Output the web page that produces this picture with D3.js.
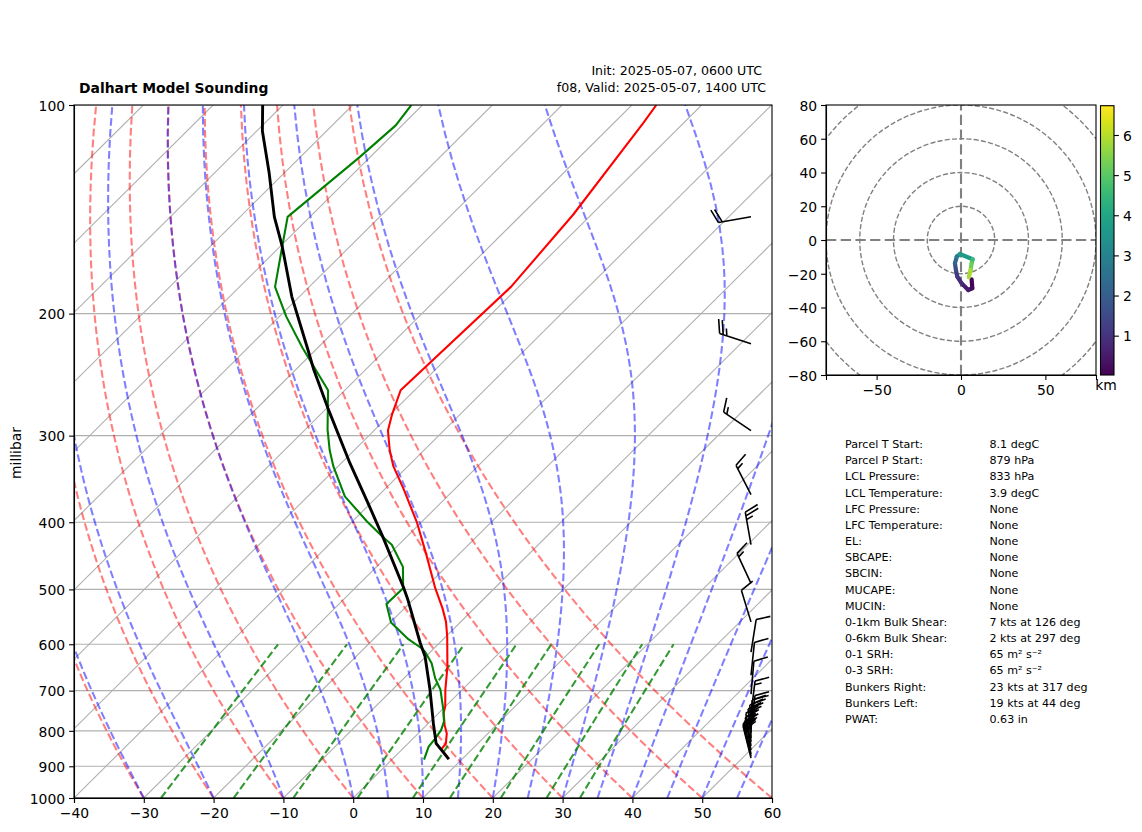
<!DOCTYPE html>
<html>
<head>
<meta charset="utf-8">
<script src="https://cdn.jsdelivr.net/npm/d3@7"></script>
<style>
	body { margin: 0; background: #fff; }
	text { font-family: "DejaVu Sans", sans-serif; fill: #000; }
	.axis text { font-size: 13.9px; }
	.axis path, .axis line { stroke: #000; stroke-width: 1.1px; }
</style>
</head>
<body>
<div id="chart"></div>
<script>
// Temperature trace (red)
const tempP = [879, 850, 834, 807, 785, 754, 738, 698, 647, 585, 557, 533, 498, 444, 401, 359, 332, 315, 295, 280, 258, 183, 144, 106, 100]
const tempC = [8.1, 5.6, 5.4, 4.1, 2.6, 0.7, 0.0, -2.4, -5.4, -9.8, -12.1, -14.5, -18.5, -24.8, -30.5, -37.2, -42.1, -44.9, -48.0, -49.7, -52.0, -51.1, -52.6, -55.8, -56.5]

// Dewpoint trace (green)
const dewP = [880, 843, 823, 798, 776, 746, 698, 672, 639, 615, 608, 590, 558, 525, 498, 464, 431, 420, 399, 367, 332, 315, 294, 258, 224, 202, 183, 160, 145, 119, 107, 100]
const dewC = [4.6, 3.4, 3.2, 2.8, 2.0, 0.2, -3.1, -5.5, -8.2, -10.8, -11.8, -15.0, -19.9, -23.2, -23.1, -26.2, -31.0, -33.4, -37.9, -44.7, -50.7, -53.5, -56.8, -62.4, -72.2, -79.0, -84.9, -89.7, -93.2, -91.5, -90.9, -91.6]

// Parcel profile (black)
const parcelP = [879, 834, 780, 698, 625, 598, 518, 498, 420, 376, 329, 274, 241, 224, 189, 160, 145, 125, 109, 100]
const parcelC = [8.1, 4.0, 0.7, -4.6, -10.1, -12.7, -20.7, -23.0, -33.4, -40.3, -48.7, -59.8, -67.4, -71.5, -81.1, -89.7, -95.1, -102.3, -109.2, -112.9]

// Wind barbs
const barbP = [145, 221, 295, 365, 431, 490, 557, 616, 665, 708, 756, 793, 806, 819, 830, 841, 853, 864, 870, 876]
const barbDir = [260, 288, 304, 333, 350, 335, 343, 9, 6, 5, 7, 7, 2, 358, 355, 351, 350, 348, 346, 346]
const barbKts = [20, 25, 15, 15, 25, 15, 10, 10, 10, 10, 15, 20, 20, 25, 25, 25, 25, 25, 25, 20]

// Hodograph
const hodoU = [6.3, 6.7, 4.3, 0.4, -2.2, -3.0, -3.6, -2.5, -0.6, 6.9, 6.3, 5.7, 4.6]
const hodoV = [-23.3, -28.6, -29.6, -25.7, -21.7, -17.8, -13.8, -9.9, -8.3, -11.4, -13.8, -17.8, -22.0]
const hodoH = [0.02, 0.1, 0.3, 0.7, 1.0, 1.3, 1.8, 2.6, 3.2, 4.2, 5.0, 5.5, 6.2]
const hodoRings = [20, 40, 60, 80, 100]
const hodoXTicks = [-50, 0, 50]
const hodoYTicks = [-80, -60, -40, -20, 0, 20, 40, 60, 80]
const colorTicks = [1, 2, 3, 4, 5, 6]

// Skew-T background
const tempTicks = [-40, -30, -20, -10, 0, 10, 20, 30, 40, 50, 60]
const pressureTicks = [100, 200, 300, 400, 500, 600, 700, 800, 900, 1000]
const isotherms = d3.range(-130, 61, 10)
const dryStarts = [-30, -20, -10, 0, 10, 20, 30, 40, 50, 60]
const moistStarts = [-30, -20, -10, 0, 5, 10, 15, 20, 25, 30, 35, 40, 45, 50, 55, 60]
const mixingRatios = [0.0004, 0.001, 0.002, 0.004, 0.007, 0.01, 0.016, 0.024, 0.032]

// Stats table
const statLabels = ['Parcel T Start:', 'Parcel P Start:', 'LCL Pressure:', 'LCL Temperature:', 'LFC Pressure:', 'LFC Temperature:', 'EL:', 'SBCAPE:', 'SBCIN:', 'MUCAPE:', 'MUCIN:', '0-1km Bulk Shear:', '0-6km Bulk Shear:', '0-1 SRH:', '0-3 SRH:', 'Bunkers Right:', 'Bunkers Left:', 'PWAT:']
const statValues = ['8.1 degC', '879 hPa', '833 hPa', '3.9 degC', 'None', 'None', 'None', 'None', 'None', 'None', 'None', '7 kts at 126 deg', '2 kts at 297 deg', '65 m² s⁻²', '65 m² s⁻²', '23 kts at 317 deg', '19 kts at 44 deg', '0.63 in']

const svg = d3.select('#chart').append('svg')
	.attr('width', 1142)
	.attr('height', 832)

const defs = svg.append('defs')
defs.append('clipPath').attr('id', 'skew-clip')
	.append('rect').attr('x', 74).attr('y', 105).attr('width', 698).attr('height', 693)
defs.append('clipPath').attr('id', 'hodo-clip')
	.append('rect').attr('x', 826).attr('y', 105).attr('width', 270).attr('height', 270)

const x = d3.scaleLinear().domain([-40, 60]).range([74, 772])
const y = d3.scaleLog().domain([1000, 100]).range([798, 105])
const skew = 1.0065

// isotherms lean over by a bit more than the pressure axis height
const skewX = (t, p) => x(t) + skew * (y(1000) - y(p))
const skewLine = d3.line().x(d => skewX(d[0], d[1])).y(d => y(d[1]))

const Rd = 287.05, Cpd = 1005, Lv = 2.50084e6, eps = 0.62198, kappa = 0.2854
const satVap = tK => 6.112 * Math.exp(17.67 * (tK - 273.15) / (tK - 29.65))
const moistRate = (p, tK) => {
	const rs = eps * satVap(tK) / (p - satVap(tK))
	return (Rd * tK + Lv * rs) / (Cpd + Lv * Lv * rs * eps / (Rd * tK * tK)) / p
}
const levels = d3.range(1000, 99, -10)

const dryCurve = t0 => levels.map(p => [(t0 + 273.15) * Math.pow(p / 1000, kappa) - 273.15, p])
const moistCurve = t0 => {
	let tK = t0 + 273.15
	return levels.map((p, i) => {
		if (i > 0) {
			const h = -10, q = p - h
			const k1 = moistRate(q, tK)
			const k2 = moistRate(q + h / 2, tK + h / 2 * k1)
			const k3 = moistRate(q + h / 2, tK + h / 2 * k2)
			const k4 = moistRate(q + h, tK + h * k3)
			tK += h / 6 * (k1 + 2 * k2 + 2 * k3 + k4)
		}
		return [tK - 273.15, p]
	})
}
const mixingCurve = w => d3.range(1000, 599, -25).map(p => {
	const v = Math.log(p * w / (eps + w) / 6.112)
	return [243.5 * v / (17.67 - v), p]
})

const skewG = svg.append('g').attr('clip-path', 'url(#skew-clip)')

// Grid
skewG.selectAll('.isobar')
	.data(pressureTicks)
	.enter().append('line')
		.attr('x1', 74).attr('x2', 772)
		.attr('y1', d => y(d)).attr('y2', d => y(d))
		.attr('stroke', '#b0b0b0').attr('stroke-width', 1.1)

skewG.selectAll('.isotherm')
	.data(isotherms)
	.enter().append('path')
		.attr('d', d => skewLine([[d, 1000], [d, 100]]))
		.attr('fill', 'none')
		.attr('stroke', '#b0b0b0').attr('stroke-width', 1.1)

const addCurves = (starts, curve, color, opacity) => {
	skewG.append('g').selectAll('path')
		.data(starts)
		.enter().append('path')
			.attr('d', d => skewLine(curve(d)))
			.attr('fill', 'none')
			.attr('stroke', color)
			.attr('stroke-opacity', opacity)
			.attr('stroke-width', 2.08)
			.attr('stroke-dasharray', '7.7,3.3')
}
addCurves(dryStarts, dryCurve, '#ff0000', 0.5)
addCurves(moistStarts, moistCurve, '#0000ff', 0.5)
addCurves(mixingRatios, mixingCurve, '#008000', 0.8)

// Traces
const addTrace = (ps, ts, color, width) => {
	skewG.append('path')
		.attr('d', skewLine(ps.map((p, i) => [ts[i], p])))
		.attr('fill', 'none')
		.attr('stroke', color)
		.attr('stroke-width', width)
		.attr('stroke-linejoin', 'round')
}
addTrace(tempP, tempC, '#ff0000', 2.08)
addTrace(dewP, dewC, '#008000', 2.08)
addTrace(parcelP, parcelC, '#000000', 2.9)

// Wind barbs, stem runs from the base out to the side the wind comes from
const barbX = 751, stem = 33, featherOut = 13.5, featherAlong = 5.4, featherGap = 3.8
const barbPath = (p, dir, kts) => {
	const a = dir * Math.PI / 180
	const sx = Math.sin(a), sy = -Math.cos(a)
	const bx = barbX, by = y(p)
	let d = `M${bx},${by}L${bx + sx * stem},${by + sy * stem}`
	let along = stem
	const feather = size => {
		const fx = bx + sx * along, fy = by + sy * along
		d += `M${fx},${fy}L${fx - sy * featherOut * size + sx * featherAlong * size},${fy + sx * featherOut * size + sy * featherAlong * size}`
		along -= featherGap
	}
	d3.range(Math.floor(kts / 10)).forEach(() => feather(1))
	if (kts % 10 >= 5) feather(0.5)
	return d
}
svg.append('g').selectAll('path')
	.data(barbP)
	.enter().append('path')
		.attr('d', (d, i) => barbPath(d, barbDir[i], barbKts[i]))
		.attr('fill', 'none')
		.attr('stroke', '#000')
		.attr('stroke-width', 1.6)

// Skew-T frame and axes
svg.append('rect')
	.attr('x', 74).attr('y', 105).attr('width', 698).attr('height', 693)
	.attr('fill', 'none').attr('stroke', '#000').attr('stroke-width', 1.1)

svg.append('g')
	.attr('class', 'axis')
	.attr('transform', 'translate(0,798)')
	.call(d3.axisBottom(x).tickValues(tempTicks).tickSize(4.9).tickPadding(5))
svg.append('g')
	.attr('class', 'axis left')
	.attr('transform', 'translate(74,0)')
	.call(d3.axisLeft(y).tickValues(pressureTicks).tickFormat(d3.format('d')).tickSize(4.9).tickPadding(4))

svg.append('text')
	.attr('transform', 'translate(21,453) rotate(-90)')
	.attr('text-anchor', 'middle')
	.attr('font-size', '13.9px')
	.text('millibar')

svg.append('text')
	.attr('x', 79).attr('y', 93)
	.attr('font-size', '13.9px').attr('font-weight', 'bold')
	.text('Dalhart Model Sounding')
svg.append('text')
	.attr('x', 762).attr('y', 74.5)
	.attr('text-anchor', 'end').attr('font-size', '12.6px')
	.text('Init: 2025-05-07, 0600 UTC')
svg.append('text')
	.attr('x', 766).attr('y', 92)
	.attr('text-anchor', 'end').attr('font-size', '12.6px')
	.text('f08, Valid: 2025-05-07, 1400 UTC')

// Hodograph
const hx = d3.scaleLinear().domain([-80, 80]).range([826, 1096])
const hy = d3.scaleLinear().domain([-80, 80]).range([375, 105])
const hodoG = svg.append('g').attr('clip-path', 'url(#hodo-clip)')

hodoG.selectAll('circle')
	.data(hodoRings)
	.enter().append('circle')
		.attr('cx', hx(0)).attr('cy', hy(0))
		.attr('r', d => hx(d) - hx(0))
		.attr('fill', 'none')
		.attr('stroke', '#808080').attr('stroke-width', 1.39)
		.attr('stroke-dasharray', '5.1,2.2')

hodoG.append('line')
	.attr('x1', hx(-80)).attr('x2', hx(80)).attr('y1', hy(0)).attr('y2', hy(0))
	.attr('stroke', '#808080').attr('stroke-width', 2.1).attr('stroke-dasharray', '10.3,4.4')
hodoG.append('line')
	.attr('x1', hx(0)).attr('x2', hx(0)).attr('y1', hy(-80)).attr('y2', hy(80))
	.attr('stroke', '#808080').attr('stroke-width', 2.1).attr('stroke-dasharray', '10.3,4.4')

const heightRange = [0.02, 6.73]
const heightColor = d3.scaleSequential(d3.interpolateViridis).domain(heightRange)

hodoG.selectAll('.hodo-seg')
	.data(hodoU.slice(1))
	.enter().append('line')
		.attr('class', 'hodo-seg')
		.attr('x1', (d, i) => hx(hodoU[i])).attr('y1', (d, i) => hy(hodoV[i]))
		.attr('x2', (d, i) => hx(hodoU[i + 1])).attr('y2', (d, i) => hy(hodoV[i + 1]))
		.attr('stroke', (d, i) => heightColor((hodoH[i] + hodoH[i + 1]) / 2))
		.attr('stroke-width', 4.2)
		.attr('stroke-linecap', 'round')

svg.append('rect')
	.attr('x', 826).attr('y', 105).attr('width', 270).attr('height', 270)
	.attr('fill', 'none').attr('stroke', '#000').attr('stroke-width', 1.1)
svg.append('g')
	.attr('class', 'axis')
	.attr('transform', 'translate(0,375)')
	.call(d3.axisBottom(hx).tickValues(hodoXTicks).tickSize(4.9).tickPadding(5))
svg.append('g')
	.attr('class', 'axis left')
	.attr('transform', 'translate(826,0)')
	.call(d3.axisLeft(hy).tickValues(hodoYTicks).tickSize(4.9).tickPadding(4))

// Colorbar
const cb = d3.scaleLinear().domain(heightRange).range([375, 105.7])
const gradient = defs.append('linearGradient')
	.attr('id', 'height-grad')
	.attr('x1', 0).attr('x2', 0).attr('y1', 1).attr('y2', 0)
gradient.selectAll('stop')
	.data(d3.range(0, 1.001, 0.05))
	.enter().append('stop')
		.attr('offset', d => d)
		.attr('stop-color', d => d3.interpolateViridis(d))
svg.append('rect')
	.attr('x', 1100.5).attr('y', 105.7).attr('width', 13.5).attr('height', 269.3)
	.attr('fill', 'url(#height-grad)').attr('stroke', '#000').attr('stroke-width', 1.1)
const cbAxis = svg.append('g')
	.attr('class', 'axis left')
	.attr('transform', 'translate(1114,0)')
	.call(d3.axisRight(cb).tickValues(colorTicks).tickFormat(d3.format('d')).tickSize(4.9).tickPadding(4))
cbAxis.select('.domain').remove()
svg.append('text')
	.attr('x', 1106).attr('y', 390)
	.attr('text-anchor', 'middle').attr('font-size', '13.9px')
	.text('km')

// labels sit a touch lower than d3's default centring
svg.selectAll('.left text').attr('dy', '0.38em')

// Stats table
const rowY = d3.scaleLinear().domain([0, statLabels.length - 1]).range([448, 723])
svg.append('g').selectAll('text')
	.data(statLabels)
	.enter().append('text')
		.attr('x', 845)
		.attr('y', (d, i) => rowY(i))
		.attr('font-size', '11.1px')
		.text(d => d)
svg.append('g').selectAll('text')
	.data(statValues)
	.enter().append('text')
		.attr('x', 989.5)
		.attr('y', (d, i) => rowY(i))
		.attr('font-size', '11.1px')
		.text(d => d)
</script>
</body>
</html>
